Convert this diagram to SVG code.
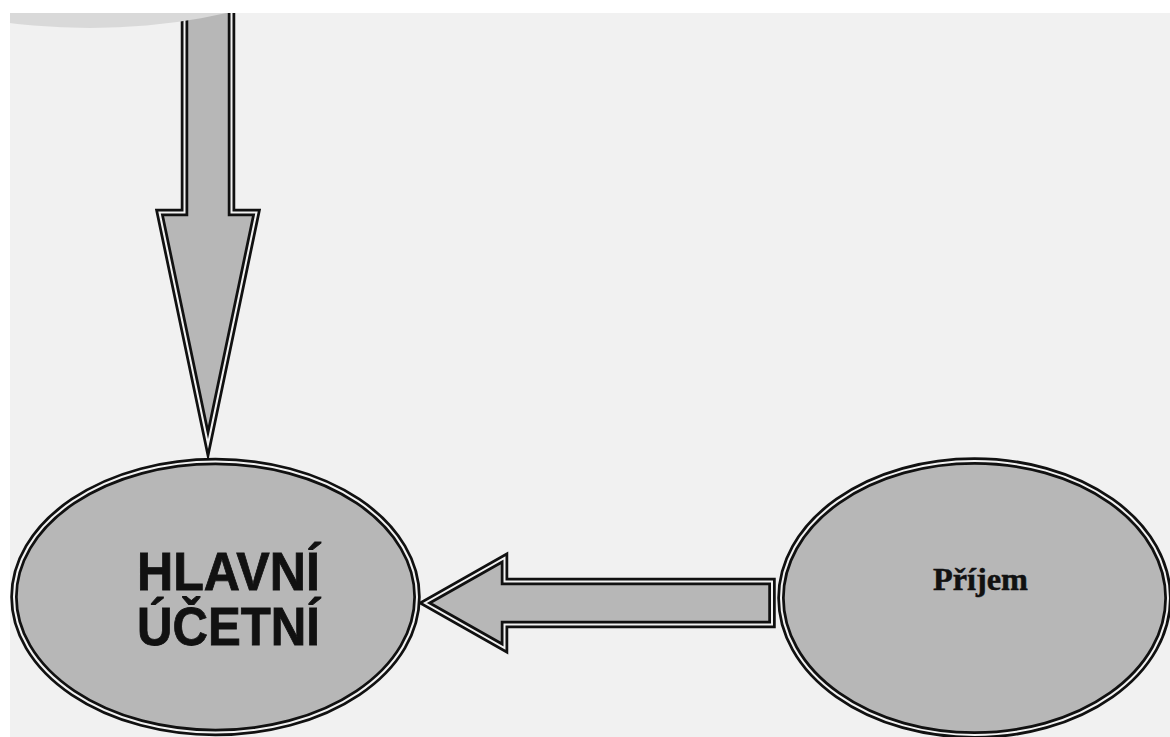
<svg xmlns="http://www.w3.org/2000/svg" width="1170" height="737" viewBox="0 0 1170 737">
  <style>
    .shape { fill: #b7b7b7; stroke: #111; stroke-width: 7.5; stroke-miterlimit: 10; }
    .gap { fill: none; stroke: #f2f2f2; stroke-width: 2; stroke-miterlimit: 10; }
    .big { font-family: "Liberation Sans", Arial, sans-serif; font-weight: bold; font-size: 53px; fill: #111; stroke: #111; stroke-width: 0.8; }
    .small { font-family: "Liberation Serif", "Times New Roman", serif; font-weight: bold; font-size: 31px; fill: #111; stroke: #111; stroke-width: 0.5; }
  </style>
  <rect x="0" y="0" width="1170" height="737" fill="#f1f1f1"/>

  <g id="connectors">
    <g id="arrow-down">
      <path class="shape" d="M184.5,-20 L184.5,212.5 L159.5,212.5 L208,444 L256.5,212.5 L231.5,212.5 L231.5,-20"/>
      <path class="gap" d="M184.5,-20 L184.5,212.5 L159.5,212.5 L208,444 L256.5,212.5 L231.5,212.5 L231.5,-20"/>
    </g>
    <g id="arrow-left">
      <path class="shape" d="M772,581.5 L504.5,581.5 L504.5,558 L425,603 L504.5,648 L504.5,624.5 L772,624.5 Z"/>
      <path class="gap" d="M772,581.5 L504.5,581.5 L504.5,558 L425,603 L504.5,648 L504.5,624.5 L772,624.5 Z"/>
    </g>
  </g>

  <g id="node-top">
    <ellipse cx="90" cy="-100" rx="290" ry="128" fill="#d9d9d9"/>
  </g>

  <g id="node-hlavni">
    <ellipse class="shape" cx="215.5" cy="597" rx="201.5" ry="135.5"/>
    <ellipse class="gap" cx="215.5" cy="597" rx="201.5" ry="135.5"/>
    <text class="big" x="137" y="590" textLength="183" lengthAdjust="spacingAndGlyphs">HLAVNÍ</text>
    <text class="big" x="137" y="645" textLength="183" lengthAdjust="spacingAndGlyphs">ÚČETNÍ</text>
  </g>

  <g id="node-prijem">
    <ellipse class="shape" cx="974.5" cy="598" rx="193.5" ry="137"/>
    <ellipse class="gap" cx="974.5" cy="598" rx="193.5" ry="137"/>
    <text class="small" x="933" y="590" textLength="95" lengthAdjust="spacingAndGlyphs">Příjem</text>
  </g>

  <rect x="0" y="0" width="1170" height="13" fill="#ffffff"/>
  <rect x="0" y="0" width="10" height="737" fill="#ffffff"/>
</svg>
